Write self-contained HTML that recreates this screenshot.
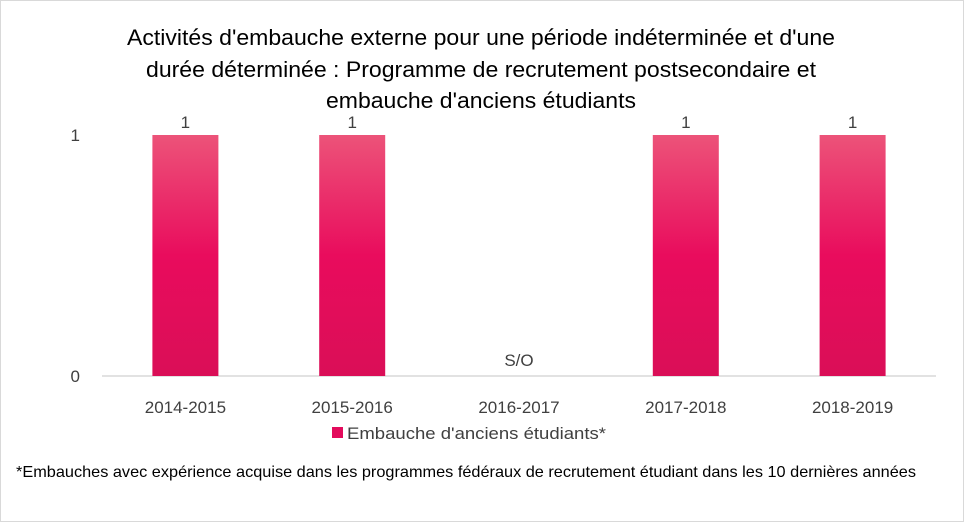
<!DOCTYPE html>
<html><head><meta charset="utf-8"><style>
body{margin:0;background:#fff;}
svg{display:block;font-family:"Liberation Sans",sans-serif;}
</style></head><body>
<svg width="965" height="523" viewBox="0 0 965 523">
<defs><linearGradient id="g" x1="0" y1="0" x2="0" y2="1">
<stop offset="0" stop-color="#ec5379"/><stop offset="0.5" stop-color="#e90c5d"/><stop offset="1" stop-color="#da0e57"/></linearGradient></defs>
<rect x="0.5" y="0.5" width="963" height="521" fill="#fff" stroke="#d9d9d9"/>
<g font-size="22" fill="#000" text-anchor="middle">
<text x="481" y="45" textLength="708" lengthAdjust="spacingAndGlyphs">Activités d'embauche externe pour une période indéterminée et d'une</text>
<text x="481" y="77" textLength="670" lengthAdjust="spacingAndGlyphs">durée déterminée : Programme de recrutement postsecondaire et</text>
<text x="481" y="108" textLength="310" lengthAdjust="spacingAndGlyphs">embauche d'anciens étudiants</text>
</g>
<g id="plot"></g>
<g>
<rect x="332" y="427" width="11" height="11" fill="#e30b5c"/>
<text x="347" y="439" font-size="17" fill="#404040" textLength="259" lengthAdjust="spacingAndGlyphs">Embauche d'anciens étudiants*</text>
</g>
<text x="16" y="477" font-size="16" fill="#000" textLength="900" lengthAdjust="spacingAndGlyphs">*Embauches avec expérience acquise dans les programmes fédéraux de recrutement étudiant dans les 10 dernières années</text>
</svg>
<script>
const categories=["2014-2015","2015-2016","2016-2017","2017-2018","2018-2019"];
const values=[1,1,null,1,1];
const valueLabels=["1","1","S/O","1","1"];
const yTicks=[0,1];
const NS="http://www.w3.org/2000/svg";
const plot=document.getElementById('plot');
const x0=102,x1=936,yBase=376,yTop=135;
const band=(x1-x0)/categories.length;
const xC=i=>x0+band*(i+0.5);
const y=v=>yBase-(yBase-yTop)*v;
function mk(t,a){const e=document.createElementNS(NS,t);for(const k in a)e.setAttribute(k,a[k]);plot.appendChild(e);return e;}
yTicks.forEach(v=>{const t=mk('text',{x:80,y:y(v)+6,'font-size':17,fill:'#404040','text-anchor':'end'});t.textContent=v;

});
const ax=mk('line',{x1:x0,x2:x1,y1:yBase,y2:yBase,stroke:'#d9d9d9','stroke-width':1.5});


const bw=66;
categories.forEach((c,i)=>{
const cx=xC(i);
const t=mk('text',{x:cx,y:413,'font-size':17,fill:'#404040','text-anchor':'middle'});t.textContent=c;


const v=values[i];
if(v!==null){const r=mk('rect',{x:cx-bw/2,y:y(v),width:bw,height:yBase-y(v),fill:'url(#g)'});

}
const ly=v!==null?y(v)-7:yBase-10;
const l=mk('text',{x:cx,y:ly,'font-size':17,fill:'#404040','text-anchor':'middle'});l.textContent=valueLabels[i];


});
</script>
</body></html>
